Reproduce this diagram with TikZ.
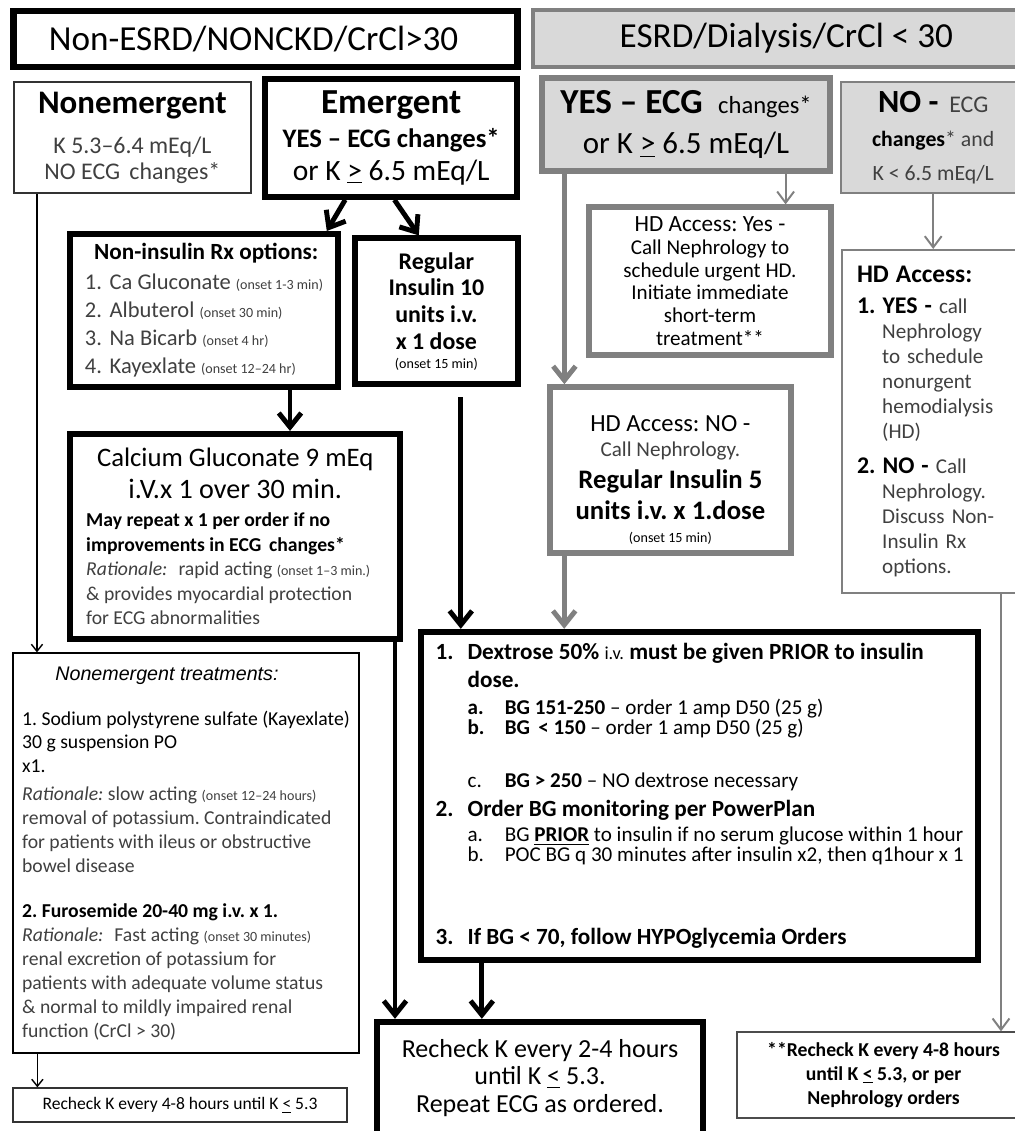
\documentclass[tikz,border=0pt]{standalone}
\usepackage{fontspec}
\setmainfont{Carlito}
\newfontfamily\arialfont{Liberation Sans}
\usepackage{tikz}
\usetikzlibrary{arrows.meta}
\definecolor{esrdgray}{gray}{0.5}
\definecolor{esrdfill}{gray}{0.85}
\definecolor{txtgray}{gray}{0.25}
\newcommand\fsz[2]{\fontsize{#1}{#2}\selectfont\lineskiplimit=-30pt\relax}
\newcommand\onsettxt[1]{{\fontsize{10}{12}\selectfont(#1)}}
\tikzset{
	nonesrd/.style={draw, line width=4pt, align=center, inner sep=0pt},
	esrd/.style={draw=esrdgray, line width=3.5pt, align=center, inner sep=0pt},
	thinbox/.style={draw, line width=1.2pt, align=center, inner sep=0pt},
	esrdthin/.style={draw=esrdgray, line width=1.4pt, align=center, inner sep=0pt},
	thkarr/.style={line width=3.5pt, -{Straight Barb[length=10pt,width=16pt]}},
	gthkarr/.style={thkarr, draw=esrdgray},
	thnarr/.style={line width=1pt, -{Straight Barb[length=5pt,width=8pt]}},
	gthnarr/.style={line width=1.4pt, draw=esrdgray, -{Straight Barb[length=8pt,width=12pt]}},
}

\begin{document}
\frenchspacing
\begin{tikzpicture}[x=1cm, y=1cm]
				\useasboundingbox (0,0) rectangle (25.375,-28.275);
				\clip (0,0) rectangle (25.375,-28.275);
				\fill[white] (0,0) rectangle (25.375,-28.275);
				% column headers
				\node[nonesrd, line width=4.5pt, minimum width=12.60cm, minimum height=1.40cm, font=\fsz{25}{30}] at (6.64,-0.98) (hdrL) {Non-ESRD/NONCKD/CrCl>30\hspace*{0.6cm}};
				\node[esrd, line width=3pt, fill=esrdfill, minimum width=12.68cm, minimum height=1.42cm, font=\fsz{25}{30}] at (19.66,-0.96) (hdrR) {ESRD/Dialysis/CrCl < 30};
				% Non-ESRD column
				\node[thinbox, draw=black!80, minimum width=5.93cm, minimum height=2.78cm, font=\fsz{17}{18.5}, text=txtgray] at (3.31,-3.44) (nonem) {{\color{black}\bfseries\fontsize{23.4}{26}\selectfont Nonemergent}\\[10pt] K 5.3–6.4 mEq/L\\ NO ECG\, changes*};
				\node[nonesrd, minimum width=6.30cm, minimum height=2.95cm, font=\fsz{19}{24}] at (9.78,-3.45) (emerg) {{\bfseries\fontsize{25}{27}\selectfont Emergent}\\ \textbf{YES – ECG changes*}\\ {\fontsize{21}{24}\selectfont or K \underline{>} 6.5 mEq/L}};
				\node[nonesrd, minimum width=6.70cm, minimum height=3.83cm, align=left, font=\fsz{16}{20}, text=txtgray] at (5.10,-7.76) (nonins) {\hspace*{0.23cm}{\color{black}\bfseries\fontsize{16.5}{20}\selectfont Non-insulin Rx options:}\\[1pt]
					\makebox[0.62cm][l]{1.}Ca Gluconate \onsettxt{onset 1-3 min}\\
					\makebox[0.62cm][l]{2.}Albuterol \onsettxt{onset 30 min}\\
					\makebox[0.62cm][l]{3.}Na Bicarb \onsettxt{onset 4 hr}\\
					\makebox[0.62cm][l]{4.}Kayexlate \onsettxt{onset 12–24 hr}};
				\node[nonesrd, minimum width=4.08cm, minimum height=3.65cm, font=\bfseries\fsz{17}{19}] at (10.91,-7.78) (reg10) {Regular\\ Insulin 10\\ units i.v.\\ x 1 dose\\[-5.5pt] {\mdseries\onsettxt{onset 15 min}}};
				\node[nonesrd, minimum width=8.25cm, minimum height=5.13cm, align=left, font=\fsz{14}{17.5}] at (5.88,-13.41) (calc) {\makebox[7.45cm][c]{\fontsize{19}{22.8}\selectfont Calcium Gluconate 9 mEq}\\[5.3pt]
					\makebox[7.45cm][c]{\fontsize{20}{22.8}\selectfont i.V.x 1 over 30 min.}\\[2.4pt]
					\textbf{May repeat x 1 per order if no}\\
					\textbf{improvements in ECG\, changes*}\\
					{\color{txtgray}\textit{Rationale:}\,\, rapid acting \onsettxt{onset 1–3 min.}}\\
					{\color{txtgray}\& provides myocardial protection}\\
					{\color{txtgray}for ECG abnormalities}};
				\node[thinbox, minimum width=8.65cm, minimum height=10.00cm, align=left, font=\fsz{14}{17}, text=txtgray] at (4.65,-21.33) (nontr) {\hspace*{0.83cm}{\color{black}\arialfont\itshape\fontsize{14}{16}\selectfont Nonemergent treatments:}\\[15pt]
					{\color{black}1. Sodium polystyrene sulfate (Kayexlate)}\\
					{\color{black}30 g suspension PO}\\
					{\color{black}x1.}\\[3pt]
					\textit{Rationale:} slow acting \onsettxt{onset 12–24 hours}\\
					removal of potassium. Contraindicated\\
					for patients with ileus or obstructive\\
					bowel disease\\[15pt]
					{\color{black}\bfseries 2. Furosemide 20-40 mg i.v. x 1.}\\
					\textit{Rationale:}\,\, Fast acting \onsettxt{onset 30 minutes}\\
					renal excretion of potassium for\\
					patients with adequate volume status\\
					\& normal to mildly impaired renal\\
					function (CrCl > 30)};
				\node[thinbox, draw=black!80, minimum width=8.35cm, minimum height=0.85cm, font=\fsz{12.5}{14}] at (4.50,-27.63) (rech48) {Recheck K every 4-8 hours until K \underline{<} 5.3};
				\node[nonesrd, line width=4.5pt, minimum width=8.15cm, minimum height=2.80cm, font=\fsz{18.5}{19.6}] at (13.50,-26.95) (rech24) {Recheck K every 2-4 hours\\ until K \underline{<} 5.3.\\ Repeat ECG as ordered.};
				% ESRD column
				\node[esrd, line width=4pt, fill=esrdfill, minimum width=7.20cm, minimum height=2.33cm, font=\fsz{22}{29}] at (17.15,-3.11) (yesecg) {{\bfseries\fontsize{25}{27}\selectfont YES – ECG}\enspace{\fontsize{17.5}{22}\selectfont changes*}\\ or K \underline{>} 6.5 mEq/L};
				\node[esrdthin, fill=esrdfill, minimum width=4.60cm, minimum height=2.78cm, font=\fsz{15.5}{24.5}, text=txtgray] at (23.33,-3.44) (noecg) {{\color{black}\bfseries\fontsize{23}{27}\selectfont NO -}\enspace{\fontsize{17}{20}\selectfont ECG}\\ {\color{black}\bfseries changes}* and\\ K < 6.5 mEq/L};
				\node[esrd, line width=4pt, minimum width=6.05cm, minimum height=3.70cm, font=\fsz{15}{16.2}] at (17.75,-7.03) (hdyes) {{\fontsize{16.5}{18}\selectfont HD Access: Yes -}\\ Call Nephrology to\\ schedule urgent HD.\\ Initiate immediate\\ short-term\\ treatment**};
				\node[esrdthin, minimum width=4.70cm, minimum height=8.58cm, text width=3.95cm, align=left, font=\fsz{15}{17.8}, text=txtgray] at (23.40,-10.54) (hdacc) {\raggedright{\color{black}\bfseries\fontsize{18}{20}\selectfont HD Access:}\\[4pt]
					{\color{black}\bfseries\fontsize{17}{20}\selectfont 1. YES -} call\\
					\hspace*{0.63cm}Nephrology\\
					\hspace*{0.63cm}to schedule\\
					\hspace*{0.63cm}nonurgent\\
					\hspace*{0.63cm}hemodialysis\\
					\hspace*{0.63cm}(HD)\\[7pt]
					{\color{black}\bfseries\fontsize{17}{20}\selectfont 2. NO -} Call\\
					\hspace*{0.63cm}Nephrology.\\
					\hspace*{0.63cm}Discuss Non-\\
					\hspace*{0.63cm}Insulin Rx\\
					\hspace*{0.63cm}options.};
				\node[esrd, line width=4pt, minimum width=6.03cm, minimum height=4.15cm, font=\fsz{15}{17.8}] at (16.76,-11.75) (hdno) {\mbox{}\\[7.8pt] {\fontsize{17.5}{20}\selectfont HD Access: NO -}\\ {\color{txtgray}Call Nephrology.}\\[5pt] {\bfseries\fontsize{19}{22}\selectfont Regular Insulin 5}\\[4pt] {\bfseries\fontsize{19}{22}\selectfont units i.v. x 1.dose}\\[-1.4pt] \onsettxt{onset 15 min}};
				\node[nonesrd, line width=4.5pt, minimum width=13.93cm, minimum height=8.20cm, align=left, font=\fsz{15}{14.2}] at (17.49,-19.90) (dext) {{\bfseries\fontsize{16.5}{18}\selectfont\makebox[0.8cm][l]{1.}Dextrose 50\% {\mdseries\fontsize{13}{14}\selectfont i.v.} must be given PRIOR to insulin}\\[5.7pt]
					\hspace*{0.8cm}{\bfseries\fontsize{16.5}{18}\selectfont dose.}\\[5pt]
					\hspace*{0.8cm}\makebox[0.93cm][l]{\textbf{a.}}\textbf{BG 151-250} – order 1 amp D50 (25 g)\\
					\hspace*{0.8cm}\makebox[0.93cm][l]{\textbf{b.}}\textbf{BG\, < 150} – order 1 amp D50 (25 g)\\[23.5pt]
					\hspace*{0.8cm}\makebox[0.93cm][l]{c.}\textbf{BG > 250} – NO dextrose necessary\\[6.4pt]
					{\bfseries\fontsize{16.5}{18}\selectfont\makebox[0.8cm][l]{2.}Order BG monitoring per PowerPlan}\\[3.6pt]
					\hspace*{0.8cm}\makebox[0.93cm][l]{a.}BG \underline{\textbf{PRIOR}} to insulin if no serum glucose within 1 hour\\
					\hspace*{0.8cm}\makebox[0.93cm][l]{b.}POC BG q 30 minutes after insulin x2, then q1hour x 1\\[44.8pt]
					{\bfseries\fontsize{16.5}{18}\selectfont\makebox[0.8cm][l]{3.}If BG < 70, follow HYPOglycemia Orders}};
				\node[thinbox, draw=black!70, minimum width=7.33cm, minimum height=2.15cm, font=\bfseries\fsz{14}{17}] at (22.09,-26.88) (rechnep) {**Recheck K every 4-8 hours\\ until K \underline{<} 5.3, or per\\ Nephrology orders};
				% Non-ESRD connectors
				\coordinate (c1) at ([xshift=0.6cm]nonem.south west);
				\draw[thnarr] (c1) -- (c1 |- nontr.north);
				\coordinate (c2) at ([xshift=0.63cm]nontr.south west);
				\draw[thnarr] (c2) -- (c2 |- rech48.north);
				\draw[thkarr] ([xshift=-1.15cm]emerg.south) -- ([xshift=-0.35cm]nonins.north east);
				\draw[thkarr] ([xshift=0.08cm]emerg.south) -- ([xshift=-0.44cm]reg10.north);
				\coordinate (c3) at ([xshift=2.15cm]nonins.south);
				\draw[thkarr] (c3) -- (c3 |- calc.north);
				\coordinate (c4) at ([xshift=0.61cm,yshift=-0.25cm]reg10.south);
				\draw[thkarr] (c4) -- (c4 |- dext.north);
				\coordinate (c5) at ([xshift=-0.2cm]calc.south east);
				\draw[thkarr] (c5) -- (c5 |- rech24.north);
				\coordinate (c6) at ([xshift=1.6cm]dext.south west);
				\draw[thkarr] (c6) -- (c6 |- rech24.north);
				% ESRD connectors
				\coordinate (c7) at ([xshift=0.63cm]yesecg.south west);
				\draw[gthkarr] (c7) -- (c7 |- hdno.north);
				\coordinate (c8) at ([xshift=-1.18cm]yesecg.south east);
				\draw[gthnarr] (c8) -- (c8 |- hdyes.north);
				\draw[gthnarr] (noecg.south) -- (noecg.south |- hdacc.north);
				\coordinate (c9) at ([xshift=0.43cm]hdno.south west);
				\draw[gthkarr] (c9) -- (c9 |- dext.north);
				\coordinate (c10) at ([xshift=4.0cm]hdacc.south west);
				\draw[gthnarr] (c10) -- (c10 |- rechnep.north);
			\end{tikzpicture}
\end{document}
